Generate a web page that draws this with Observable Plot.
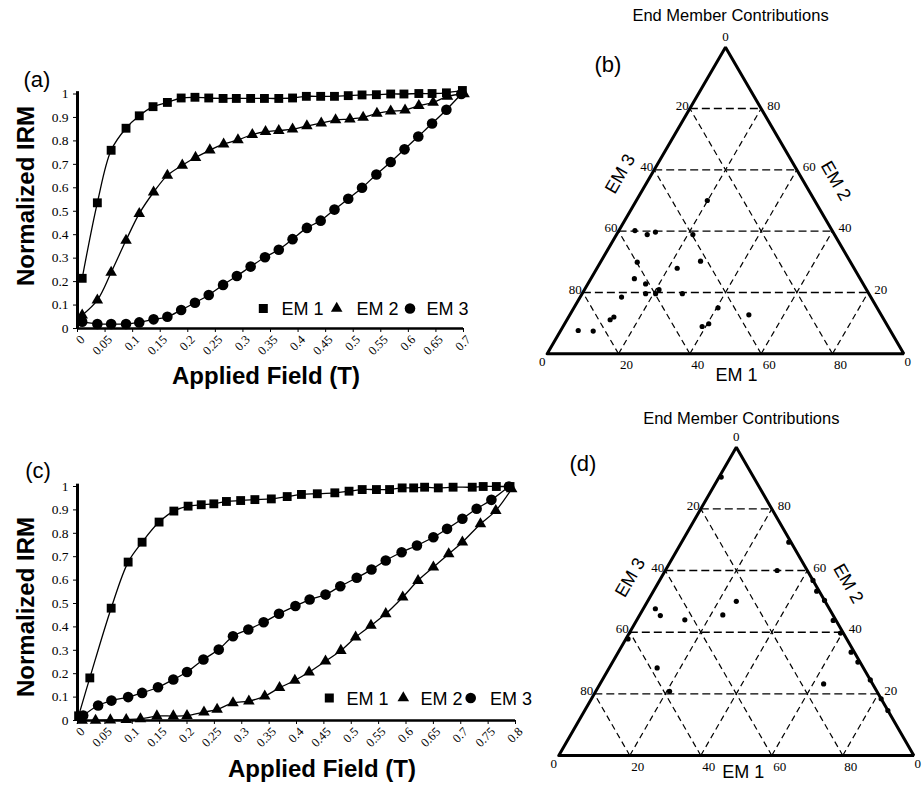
<!DOCTYPE html>
<html>
<head>
<meta charset="utf-8">
<script src="https://cdn.jsdelivr.net/npm/d3@7"></script>
<script src="https://cdn.jsdelivr.net/npm/@observablehq/plot@0.6"></script>
<style>
  body { margin: 0; background: #fff; }
  #fig { position: relative; width: 924px; height: 786px; overflow: hidden; background: #fff; }
  #fig > svg { position: absolute; left: 0; top: 0; }
</style>
</head>
<body>
<div id="fig"></div>
<script>
// ------------------------------------------------------------------ data
const seriesNames = ["EM 1", "EM 2", "EM 3"];

// Panel (a) – IRM acquisition curves
const aFieldEM1 = [0.0085,0.036,0.061,0.088,0.112,0.137,0.163,0.188,0.213,0.238,0.264,0.288,0.314,0.339,0.365,0.390,0.415,0.441,0.466,0.491,0.516,0.542,0.568,0.592,0.619,0.643,0.669,0.698];
const aEM1      = [0.214,0.536,0.760,0.854,0.907,0.946,0.964,0.983,0.986,0.983,0.981,0.981,0.981,0.981,0.981,0.983,0.990,0.990,0.990,0.993,0.996,0.997,1.000,1.000,1.002,1.002,1.005,1.015];
const aFieldEM2 = [0.0085,0.036,0.061,0.088,0.112,0.138,0.163,0.190,0.214,0.240,0.265,0.291,0.317,0.341,0.365,0.390,0.416,0.442,0.468,0.494,0.518,0.543,0.568,0.594,0.619,0.645,0.671,0.701];
const aEM2      = [0.057,0.121,0.239,0.376,0.490,0.581,0.653,0.696,0.729,0.761,0.786,0.804,0.827,0.839,0.844,0.850,0.864,0.876,0.889,0.893,0.900,0.917,0.927,0.931,0.950,0.964,0.990,1.000];
const aFieldEM3 = [0.0085,0.036,0.061,0.088,0.112,0.138,0.163,0.188,0.213,0.238,0.264,0.289,0.314,0.340,0.365,0.390,0.416,0.441,0.466,0.491,0.516,0.542,0.568,0.593,0.618,0.643,0.669,0.696];
const aEM3      = [0.029,0.019,0.019,0.019,0.026,0.039,0.050,0.079,0.110,0.143,0.186,0.224,0.264,0.304,0.336,0.381,0.429,0.460,0.507,0.553,0.600,0.657,0.710,0.764,0.819,0.874,0.933,1.000];

// Panel (c) – IRM acquisition curves
const cFieldEM1 = [0.002,0.0225,0.0615,0.0925,0.118,0.149,0.176,0.202,0.226,0.249,0.272,0.298,0.324,0.354,0.383,0.409,0.438,0.470,0.496,0.520,0.546,0.570,0.593,0.614,0.634,0.659,0.686,0.721,0.741,0.765,0.790];
const cEM1      = [0.020,0.182,0.480,0.677,0.762,0.848,0.895,0.916,0.922,0.926,0.936,0.940,0.944,0.947,0.957,0.966,0.969,0.973,0.980,0.987,0.987,0.987,0.994,0.994,0.997,0.994,0.997,0.997,1.000,1.000,1.000];
const cFieldEM2 = [0.0085,0.033,0.060,0.089,0.115,0.145,0.175,0.200,0.231,0.255,0.284,0.313,0.342,0.369,0.397,0.423,0.453,0.481,0.508,0.536,0.563,0.594,0.622,0.650,0.678,0.703,0.736,0.764,0.793];
const cEM2      = [0.000,0.000,0.002,0.004,0.007,0.019,0.019,0.021,0.036,0.047,0.075,0.083,0.104,0.140,0.171,0.207,0.254,0.299,0.356,0.406,0.456,0.527,0.598,0.655,0.712,0.762,0.840,0.897,0.990];
const cFieldEM3 = [0.0104,0.0377,0.062,0.0925,0.118,0.147,0.175,0.200,0.230,0.258,0.284,0.312,0.340,0.368,0.398,0.424,0.453,0.480,0.510,0.537,0.563,0.592,0.620,0.650,0.675,0.703,0.729,0.756,0.788];
const cEM3      = [0.021,0.064,0.085,0.100,0.118,0.142,0.175,0.207,0.261,0.303,0.360,0.389,0.420,0.456,0.489,0.517,0.538,0.574,0.610,0.645,0.684,0.719,0.748,0.783,0.819,0.862,0.905,0.943,1.000];

// tick values / labels
const yTicks      = [0,0.1,0.2,0.3,0.4,0.5,0.6,0.7,0.8,0.9,1];
const yTickLabels = ["0","0.1","0.2","0.3","0.4","0.5","0.6","0.7","0.8","0.9","1"];
const aXTicks      = [0,0.05,0.1,0.15,0.2,0.25,0.3,0.35,0.4,0.45,0.5,0.55,0.6,0.65,0.7];
const aXTickLabels = ["0","0.05","0.1","0.15","0.2","0.25","0.3","0.35","0.4","0.45","0.5","0.55","0.6","0.65","0.7"];
const cXTicks      = [0,0.05,0.1,0.15,0.2,0.25,0.3,0.35,0.4,0.45,0.5,0.55,0.6,0.65,0.7,0.75,0.8];
const cXTickLabels = ["0","0.05","0.1","0.15","0.2","0.25","0.3","0.35","0.4","0.45","0.5","0.55","0.6","0.65","0.7","0.75","0.8"];

// Panel (b) – end member contributions (%)
const bEM1 = [19.9, 4.5, 8.6,10.5,21.4,10.3,27.9,22.5,12.2,16.2,20.9,20.6,17.8,28.1,11.6,12.7,12.1, 4.9, 9.2,40.4,50.2,40.4,39.0];
const bEM2 = [50.0,40.2,38.9,39.7,38.9,29.9,30.2,27.9,24.5,22.8,20.9,19.6,19.6,19.6,18.5,12.0,11.1, 7.6, 7.4,15.0,12.7, 9.8, 8.9];
const bEM3 = [30.1,55.3,52.5,49.8,39.7,59.8,41.9,49.6,63.3,61.0,58.2,59.8,62.6,52.3,69.9,75.3,76.8,87.5,83.4,44.6,37.1,49.8,52.1];

// Panel (d) – end member contributions (%)
const dEM1 = [ 0.6,30.2,31.5,43.2,46.0,49.7,55.4,59.5,65.6,69.1,75.5,81.6,85.4, 0.6, 3.4, 5.9,13.5,23.4,25.0,13.5,20.8,63.0];
const dEM2 = [90.3,69.2,60.0,56.8,53.3,50.3,43.8,39.7,33.5,30.3,24.5,18.4,14.6,37.8,47.6,45.4,44.0,45.6,50.0,28.4,20.8,23.2];
const dEM3 = [ 9.1, 0.6, 8.5, 0.0, 0.7, 0.0, 0.8, 0.8, 0.9, 0.6, 0.0, 0.0, 0.0,61.6,49.0,48.7,42.5,31.0,25.0,58.1,58.4,13.8];

const ternaryLevels = [20, 40, 60, 80];

// ------------------------------------------------------------------ helpers
const W = 924, H = 786;
const SERIF = "'Liberation Serif', 'Times New Roman', serif";
const SANS = "'Liberation Sans', Arial, sans-serif";
const fig = document.getElementById("fig");

function place(svg) {
  svg.style.position = "absolute";
  svg.style.left = "0px";
  svg.style.top = "0px";
  svg.style.background = "transparent";
  svg.style.maxWidth = "none";
  fig.appendChild(svg);
}

function linePanel(box, xMax, xTicks, xTickLabels, fields, values) {
  const symbols = ["square", "triangle", "circle"];
  const radii = [5.0, 4.3, 5.3];
  const tables = seriesNames.map((name, s) =>
    fields[s].map((x, i) => ({x, y: values[s][i], name})));
  const marks = [
    Plot.ruleY([0], {stroke: "#000", strokeWidth: 2.5}),
    Plot.ruleX([0], {y1: 0, y2: 1.01, stroke: "#000", strokeWidth: 3}),
    Plot.text(yTicks, {x: 0, y: d => d, text: (d, i) => yTickLabels[i], textAnchor: "end",
      dx: -9, fontFamily: SERIF, fontSize: 13.5, fill: "#000"}),
    Plot.text(xTicks, {x: d => d, y: 0, text: (d, i) => xTickLabels[i], rotate: -45,
      textAnchor: "end", dx: 5, dy: 9, fontFamily: SERIF, fontSize: 12.5, fill: "#000"})
  ];
  tables.forEach((t) => {
    marks.push(Plot.line(t, {x: "x", y: "y", curve: "catmull-rom", stroke: "#000", strokeWidth: 1.3}));
  });
  tables.forEach((t, s) => {
    marks.push(Plot.dot(t, {x: "x", y: "y", symbol: symbols[s], r: radii[s], fill: "#000"}));
  });
  const svg = Plot.plot({
    width: W, height: H,
    marginLeft: box.x0, marginRight: W - box.x1, marginTop: box.y1, marginBottom: H - box.y0,
    style: {background: "transparent", color: "#000", overflow: "visible"},
    x: {domain: [0, xMax], ticks: xTicks, tickSize: 4, tickFormat: () => "", label: null},
    y: {domain: [0, 1], ticks: yTicks, tickSize: 4, tickFormat: () => "", label: null},
    marks
  });
  place(svg);
}

function ternaryPanel(box, em1, em2, em3, lab) {
  const P = (a, b) => ({x: (a + b / 2) / 100, y: b / 100});
  const pts = em1.map((a, i) => {
    const t = a + em2[i] + em3[i];
    return P(100 * a / t, 100 * em2[i] / t);
  });
  const outline = [[0, 0], [100, 0], [0, 100], [0, 0]].map(([a, b]) => P(a, b));
  const hGrid = ternaryLevels.map(k => ({p: P(0, k), q: P(100 - k, k)}));
  const dGrid = ternaryLevels.flatMap(k => [
    {p: P(k, 0), q: P(k, 100 - k)},
    {p: P(100 - k, 0), q: P(0, 100 - k)}
  ]);
  const link = (data, dash, sw) => Plot.link(data, {
    x1: d => d.p.x, y1: d => d.p.y, x2: d => d.q.x, y2: d => d.q.y,
    stroke: "#000", strokeWidth: sw, strokeDasharray: dash});
  const tick = {fontFamily: SERIF, fontSize: 13, fill: "#000"};
  const em = {fontFamily: SANS, fontSize: 18, fill: "#000"};
  const svg = Plot.plot({
    width: W, height: H,
    marginLeft: box.x0, marginRight: W - box.x1, marginTop: box.yTop, marginBottom: H - box.yBottom,
    style: {background: "transparent", color: "#000", overflow: "visible"},
    x: {domain: [0, 1], axis: null},
    y: {domain: [0, 1], axis: null},
    marks: [
      link(hGrid, "8,4", 1.4),
      link(dGrid, "6,4", 1.2),
      Plot.line(outline, {x: "x", y: "y", stroke: "#000", strokeWidth: 3, strokeLinejoin: "miter"}),
      Plot.dot(pts, {x: "x", y: "y", r: 2.6, fill: "#000"}),
      // EM 1 axis (bottom)
      Plot.text(ternaryLevels, {x: k => P(k, 0).x, y: 0, text: k => String(k), dx: 8, dy: 11, ...tick}),
      // EM 3 axis (left)
      Plot.text(ternaryLevels, {x: k => P(0, 100 - k).x, y: k => P(0, 100 - k).y, text: k => String(k), textAnchor: "end", dx: -1, dy: -3, ...tick}),
      // EM 2 axis (right)
      Plot.text(ternaryLevels, {x: k => P(100 - k, k).x, y: k => P(100 - k, k).y, text: k => String(k), textAnchor: "start", dx: 6, dy: -3, ...tick}),
      // vertex zeros
      Plot.text(["0"], {x: 0, y: 0, text: d => d, dx: -5, dy: 8, ...tick}),
      Plot.text(["0"], {x: 1, y: 0, text: d => d, dx: 4, dy: 8, ...tick}),
      Plot.text(["0"], {x: 0.5, y: 1, text: d => d, dy: -10, ...tick}),
      // axis names
      Plot.text([seriesNames[0]], {x: 0.5, y: 0, text: d => d, dx: lab.em1dx, dy: lab.em1dy, ...em}),
      Plot.text([seriesNames[2]], {x: P(0, 60).x, y: P(0, 60).y, text: d => d, rotate: -60, dx: lab.em3dx, dy: lab.em3dy, ...em}),
      Plot.text([seriesNames[1]], {x: P(40, 60).x, y: P(40, 60).y, text: d => d, rotate: 60, dx: lab.em2dx, dy: lab.em2dy, ...em}),
      // title
      Plot.text(["End Member Contributions"], {x: 0.5, y: 1, text: d => d, dx: 5, dy: lab.titleDy, fontFamily: SANS, fontSize: 16.5, fill: "#000"})
    ]
  });
  place(svg);
}

// ------------------------------------------------------------------ panels
linePanel({x0: 77, x1: 463, y1: 93.5, y0: 328}, 0.7, aXTicks, aXTickLabels,
  [aFieldEM1, aFieldEM2, aFieldEM3], [aEM1, aEM2, aEM3]);
linePanel({x0: 77, x1: 515, y1: 486, y0: 720}, 0.8, cXTicks, cXTickLabels,
  [cFieldEM1, cFieldEM2, cFieldEM3], [cEM1, cEM2, cEM3]);

ternaryPanel({x0: 546.7, x1: 903.3, yTop: 46.7, yBottom: 353.3}, bEM1, bEM2, bEM3,
  {em1dx: 11, em1dy: 21, em3dx: -34, em3dy: 4, em2dx: 39, em2dy: 11, titleDy: -31});
ternaryPanel({x0: 558.3, x1: 913.3, yTop: 446.7, yBottom: 755}, dEM1, dEM2, dEM3,
  {em1dx: 7, em1dy: 17, em3dx: -35, em3dy: 7, em2dx: 41, em2dy: 13, titleDy: -28});

// ------------------------------------------------------------------ annotations (panel letters, axis titles, legends)
const ann = d3.create("svg").attr("width", W).attr("height", H)
  .attr("font-family", SANS).attr("fill", "#000");

[["(a)", 37, 87], ["(c)", 38, 478], ["(b)", 608, 72], ["(d)", 583, 471]].forEach(([t, x, y]) =>
  ann.append("text").attr("x", x).attr("y", y).attr("text-anchor", "middle").attr("font-size", 22).text(t));

[[196], [607]].forEach(([cy]) =>
  ann.append("text").attr("transform", `translate(33.5,${cy}) rotate(-90)`).attr("text-anchor", "middle")
    .attr("font-size", 24).attr("font-weight", "bold").text("Normalized IRM"));

[[266, 384], [322, 777]].forEach(([x, y]) =>
  ann.append("text").attr("x", x).attr("y", y).attr("text-anchor", "middle")
    .attr("font-size", 24).attr("font-weight", "bold").text("Applied Field (T)"));

function legend(g, pos) {
  const [sq, t1, tr, t2, ci, t3, base, cy] = pos;
  g.append("rect").attr("x", sq - 4.5).attr("y", cy - 4.5).attr("width", 9).attr("height", 9);
  g.append("path").attr("d", d3.symbol(d3.symbolTriangle, 58)()).attr("transform", `translate(${tr},${cy})`);
  g.append("circle").attr("cx", ci).attr("cy", cy).attr("r", 5.3);
  [[t1, seriesNames[0]], [t2, seriesNames[1]], [t3, seriesNames[2]]].forEach(([x, t]) =>
    g.append("text").attr("x", x).attr("y", base).attr("font-size", 18).text(t));
}
legend(ann, [263.3, 281.5, 336.7, 356.5, 410, 426.5, 315, 308.5]);
legend(ann, [329.3, 346.5, 403.3, 420.5, 470.7, 490, 705, 698]);

place(ann.node());
</script>
</body>
</html>
